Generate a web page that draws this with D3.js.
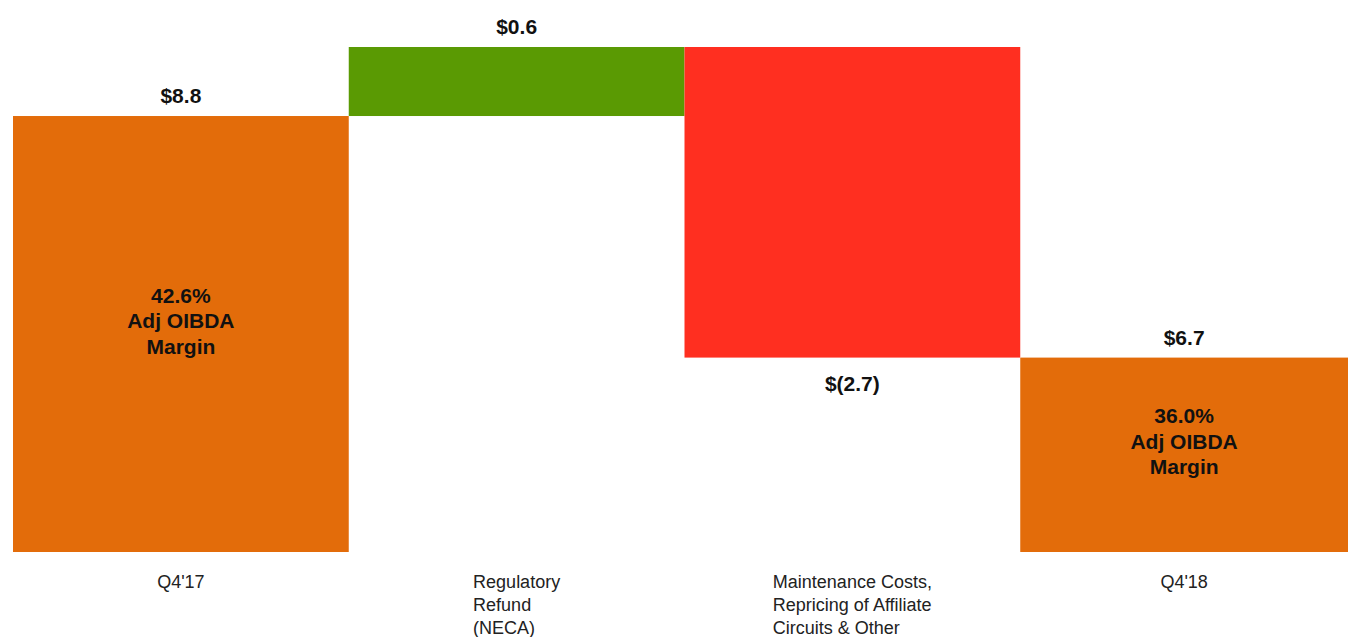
<!DOCTYPE html>
<html>
<head>
<meta charset="utf-8">
<script src="https://cdn.jsdelivr.net/npm/d3@7"></script>
<style>
  html, body { margin: 0; padding: 0; background: #fff; }
  svg { display: block; }
</style>
</head>
<body>
<svg id="chart" width="1348" height="637"></svg>
<script>
const categories = ["Q4'17", "Regulatory Refund (NECA)", "Maintenance Costs, Repricing of Affiliate Circuits & Other", "Q4'18"];
const categoryLines = [["Q4'17"], ["Regulatory", "Refund", "(NECA)"], ["Maintenance Costs,", "Repricing of Affiliate", "Circuits & Other"], ["Q4'18"]];
const values = [8.8, 0.6, -2.7, 6.7];
const kinds = ["total", "delta", "delta", "total"];
const valueLabels = ["$8.8", "$0.6", "$(2.7)", "$6.7"];
const marginLabels = [["42.6%", "Adj OIBDA", "Margin"], null, null, ["36.0%", "Adj OIBDA", "Margin"]];

const colors = { total: "#E36C0A", up: "#5A9A03", down: "#FF2F20" };

// compute waterfall segments
let running = 0;
const bars = categories.map((c, i) => {
  let start, end;
  if (kinds[i] === "total") { start = 0; end = values[i]; running = values[i]; }
  else { start = running; end = running + values[i]; running = end; }
  return { cat: c, i, start, end, v: values[i], kind: kinds[i] };
});

const svg = d3.select("#chart");
const x = d3.scaleBand().domain(categories).range([13, 1356]).padding(0);
const y = d3.scaleLinear().domain([5.01, 9.4]).range([552, 47]);
const lo = y.domain()[0];

const fillOf = d => d.kind === "total" ? colors.total : (d.v >= 0 ? colors.up : colors.down);

svg.selectAll("rect.bar").data(bars).enter().append("rect")
  .attr("class", "bar")
  .attr("x", d => x(d.cat))
  .attr("width", x.bandwidth())
  .attr("y", d => y(Math.max(Math.max(d.start, lo), d.end)))
  .attr("height", d => Math.abs(y(Math.max(d.start, lo)) - y(d.end)))
  .attr("fill", fillOf);

const font = "'Liberation Sans', Arial, Helvetica, sans-serif";

// value labels
svg.selectAll("text.val").data(bars).enter().append("text")
  .attr("class", "val")
  .attr("x", d => x(d.cat) + x.bandwidth() / 2 - (d.i === 3 ? 4 : 0))
  .attr("y", d => d.v >= 0 ? y(Math.max(d.start, d.end)) - 13 : y(d.end) + 33)
  .attr("text-anchor", "middle")
  .attr("font-family", font)
  .attr("font-weight", "bold")
  .attr("font-size", 21)
  .attr("fill", "#111")
  .text(d => valueLabels[d.i]);

// margin labels inside total bars
bars.forEach(d => {
  const lines = marginLabels[d.i];
  if (!lines) return;
  const top = y(d.end), bot = y(Math.max(d.start, lo));
  const cy = (top + bot) / 2 - 13;
  const cx = x(d.cat) + x.bandwidth() / 2 - (d.i === 3 ? 4 : 0);
  const lh = 25.5;
  svg.append("g").selectAll("text").data(lines).enter().append("text")
    .attr("x", cx)
    .attr("y", (l, k) => cy + (k - (lines.length - 1) / 2) * lh + 7)
    .attr("text-anchor", "middle")
    .attr("font-family", font)
    .attr("font-weight", "bold")
    .attr("font-size", 21)
    .attr("fill", "#111")
    .text(l => l);
});

// category labels
categories.forEach((c, i) => {
  const lines = categoryLines[i];
  const cx = x(c) + x.bandwidth() / 2 - (i === 3 ? 4 : 0);
  const g = svg.append("g");
  const texts = g.selectAll("text").data(lines).enter().append("text")
    .attr("y", (l, k) => 588 + k * 23)
    .attr("font-family", font)
    .attr("font-size", 18)
    .attr("fill", "#222")
    .text(l => l);
  if (lines.length === 1) {
    texts.attr("x", cx).attr("text-anchor", "middle");
  } else {
    let maxW = 0;
    texts.each(function () { maxW = Math.max(maxW, this.getComputedTextLength()); });
    texts.attr("x", cx - maxW / 2).attr("text-anchor", "start");
  }
});
</script>
</body>
</html>
